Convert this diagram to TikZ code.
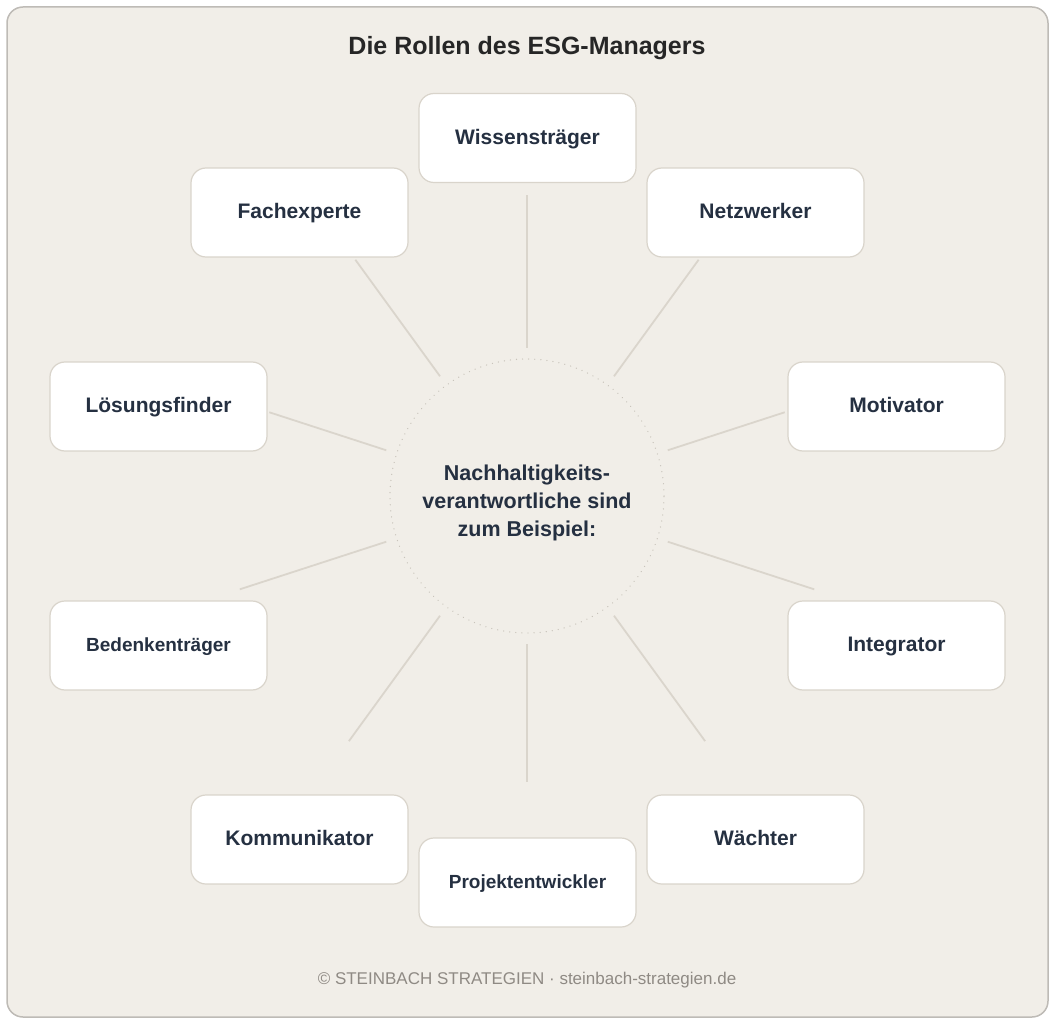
\documentclass[tikz,border=0pt]{standalone}
\usepackage{fontspec}
\setmainfont{Liberation Sans}
\usetikzlibrary{calc}
\definecolor{bg}{HTML}{F1EEE8}
\definecolor{frame}{HTML}{BEBBB6}
\definecolor{boxline}{HTML}{D9D4CB}
\definecolor{spoke}{HTML}{DAD5CC}
\definecolor{txt}{HTML}{253041}
\definecolor{foot}{HTML}{8F8A84}
\definecolor{dotc}{HTML}{C9C4BB}
\begin{document}
\begin{tikzpicture}[x=1pt,y=-1pt,
  role/.style={draw=boxline,line width=1.2pt,fill=white,rounded corners=15pt,
    minimum width=217pt,minimum height=89pt,inner sep=0pt,text=txt,
    text height=1.25em,text depth=0pt,
    font=\bfseries\fontsize{21}{24}\selectfont},
  rolesm/.style={role,font=\bfseries\fontsize{19}{22}\selectfont},
  spk/.style={draw=spoke,line width=1.8pt}]
\useasboundingbox (0,0) rectangle (1055,1024);
\draw[frame,fill=bg,line width=1.5pt,rounded corners=16pt] (7,7) rectangle (1048,1017);
\node[font=\bfseries\fontsize{25}{30}\selectfont,text=black!85] (title) at (527,48) {Die Rollen des ESG-Managers};
\node[circle,draw=dotc,line width=1.3pt,dash pattern=on 0.1pt off 6pt,line cap=round,minimum size=274pt,inner sep=0pt] (c) at (527,496) {};
% spokes
\foreach \n/\a/\r in {wis/90/301, fach/126/292, netz/54/292, loes/162/271, moti/18/271,
  bed/198/302, integ/-18/302, komm/234/303, waech/-54/303, proj/270/286}{
  \coordinate (\n-i) at ($(c.center)+(-\a:148)$);
  \coordinate (\n-o) at ($(c.center)+(-\a:\r)$);
  \draw[spk] (\n-i) -- (\n-o);
}
\node[align=center,text=txt,font=\bfseries\fontsize{21.5}{28}\selectfont] (ct) at (527,503) {Nachhaltigkeits-\\verantwortliche sind\\zum Beispiel:};
\node[role] (wis) at (527.5,138) {Wissensträger};
\node[role] (fach) at (299.5,212.5) {Fachexperte};
\node[role] (netz) at (755.5,212.5) {Netzwerker};
\node[role] (loes) at (158.5,406.5) {Lösungsfinder};
\node[role] (moti) at (896.5,406.5) {Motivator};
\node[rolesm] (bed) at (158.5,645.5) {Bedenkenträger};
\node[role] (integ) at (896.5,645.5) {Integrator};
\node[role] (komm) at (299.5,839.5) {Kommunikator};
\node[role] (waech) at (755.5,839.5) {Wächter};
\node[rolesm] (proj) at (527.5,882.5) {Projektentwickler};
\node[text=foot,font=\fontsize{17}{20}\selectfont] (foot) at (527,980) {© STEINBACH STRATEGIEN · steinbach-strategien.de};
\end{tikzpicture}
\end{document}
